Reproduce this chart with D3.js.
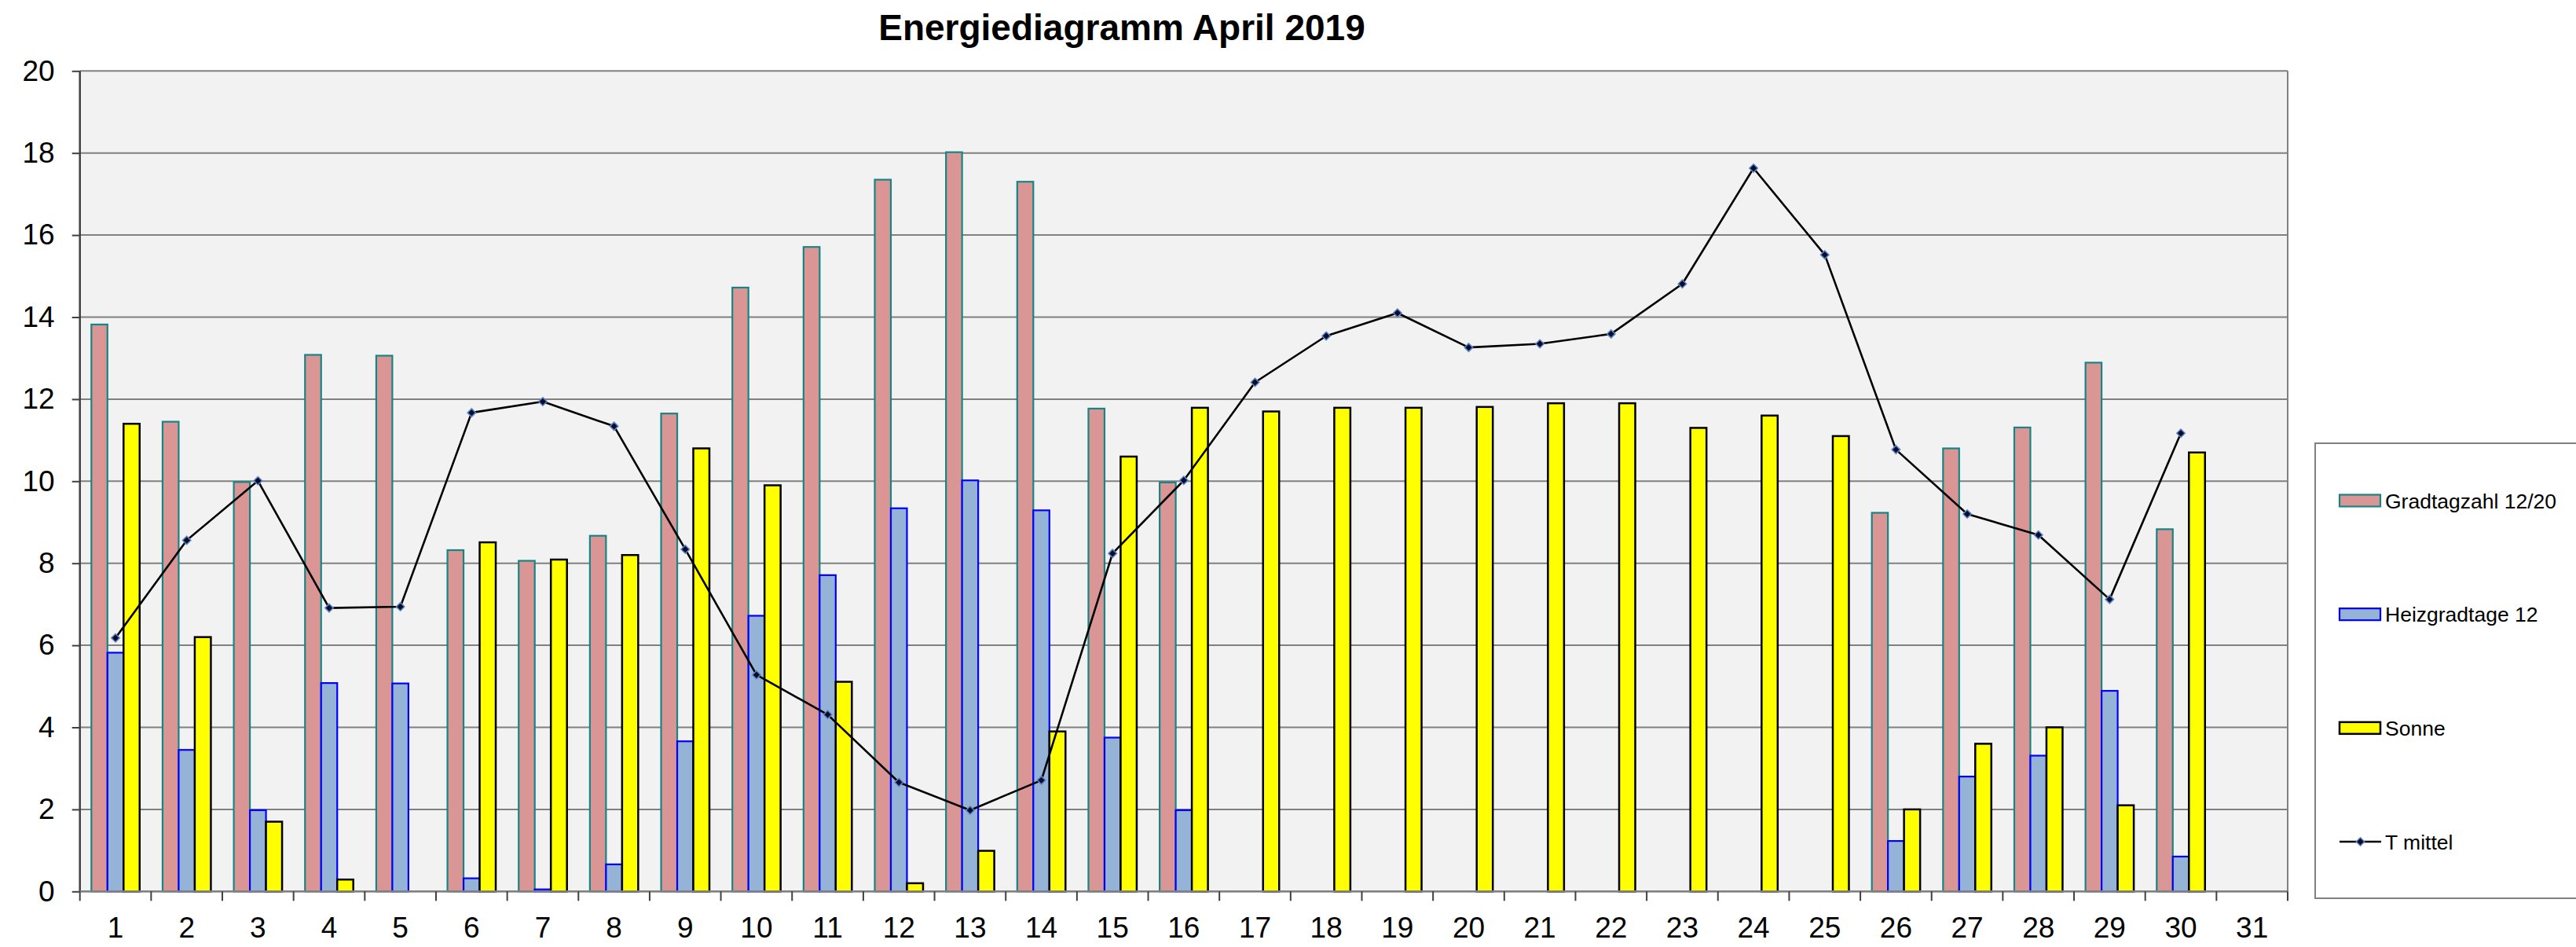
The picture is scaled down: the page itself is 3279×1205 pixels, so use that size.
<!DOCTYPE html>
<html>
<head>
<meta charset="utf-8">
<script src="https://cdn.jsdelivr.net/npm/d3@7"></script>
<style>
  html, body { margin: 0; padding: 0; background: #ffffff; }
  svg { display: block; }
  text { font-family: "Liberation Sans", Arial, Helvetica, sans-serif; }
</style>
</head>
<body>
<svg id="chart" width="3279" height="1205"></svg>
<script>
// ---------- data ----------
const days = ["1","2","3","4","5","6","7","8","9","10","11","12","13","14","15","16",
              "17","18","19","20","21","22","23","24","25","26","27","28","29","30","31"];

const gradtagzahl = [13.82, 11.45, 9.98, 13.08, 13.06, 8.32, 8.06, 8.67, 11.65, 14.72,
                     15.71, 17.35, 18.02, 17.30, 11.77, 9.97, 0, 0, 0, 0,
                     0, 0, 0, 0, 0, 9.23, 10.80, 11.31, 12.89, 8.83, null];

const heizgradtage = [5.82, 3.45, 1.98, 5.08, 5.07, 0.32, 0.05, 0.66, 3.66, 6.72,
                      7.71, 9.34, 10.02, 9.29, 3.75, 1.98, 0, 0, 0, 0,
                      0, 0, 0, 0, 0, 1.23, 2.80, 3.31, 4.89, 0.85, null];

const sonne = [11.40, 6.20, 1.70, 0.29, 0, 8.51, 8.09, 8.20, 10.80, 9.90,
               5.11, 0.20, 0.99, 3.90, 10.60, 11.79, 11.70, 11.79, 11.79, 11.81,
               11.90, 11.90, 11.30, 11.60, 11.10, 2.00, 3.60, 4.00, 2.10, 10.70, null];

const tMittel = [6.18, 8.56, 10.01, 6.91, 6.94, 11.67, 11.94, 11.34, 8.34, 5.28,
                 4.31, 2.66, 1.98, 2.71, 8.24, 10.02, 12.41, 13.54, 14.10, 13.26,
                 13.35, 13.59, 14.81, 17.63, 15.52, 10.77, 9.20, 8.69, 7.12, 11.17, null];

const yTicks = [0, 2, 4, 6, 8, 10, 12, 14, 16, 18, 20];

const seriesNames = ["Gradtagzahl 12/20", "Heizgradtage 12", "Sonne", "T mittel"];

// ---------- layout ----------
const W = 3279, H = 1205;
const plot = { left: 101.7, right: 2912, top: 90.3, bottom: 1134.3 };

const svg = d3.select("#chart");
svg.append("rect").attr("width", W).attr("height", H).attr("fill", "#ffffff");

const x = d3.scaleBand().domain(days).range([plot.left, plot.right]).paddingInner(0).paddingOuter(0);
const bw = x.bandwidth();
const groupW = bw * 0.678;
const barSeries = ["grad", "heiz", "sonne"];
const xInner = d3.scaleBand().domain(barSeries)
  .range([(bw - groupW) / 2, (bw + groupW) / 2]).padding(0);

const y = d3.scaleLinear().domain([0, 20]).range([plot.bottom, plot.top]);

// plot background
svg.append("rect")
  .attr("x", plot.left).attr("y", plot.top)
  .attr("width", plot.right - plot.left).attr("height", plot.bottom - plot.top)
  .attr("fill", "#f2f2f2");

// gridlines
svg.append("g").selectAll("line").data(yTicks).join("line")
  .attr("x1", plot.left).attr("x2", plot.right)
  .attr("y1", d => y(d)).attr("y2", d => y(d))
  .attr("stroke", "#808080").attr("stroke-width", 2);

// right border of plot area
svg.append("line")
  .attr("x1", plot.right).attr("x2", plot.right)
  .attr("y1", plot.top).attr("y2", plot.bottom)
  .attr("stroke", "#808080").attr("stroke-width", 2);

// ---------- bars ----------
const styles = {
  grad:  { fill: "#d99694", stroke: "#178585" },
  heiz:  { fill: "#95b3d7", stroke: "#0000ff" },
  sonne: { fill: "#ffff00", stroke: "#000000" }
};
const valuesBy = { grad: gradtagzahl, heiz: heizgradtage, sonne: sonne };

barSeries.forEach(key => {
  const data = days.map((d, i) => ({ day: d, v: valuesBy[key][i] }))
    .filter(d => d.v !== null && d.v > 0);
  svg.append("g").selectAll("rect").data(data).join("rect")
    .attr("x", d => x(d.day) + xInner(key))
    .attr("y", d => y(d.v))
    .attr("width", xInner.bandwidth())
    .attr("height", d => y(0) - y(d.v))
    .attr("fill", styles[key].fill)
    .attr("stroke", styles[key].stroke)
    .attr("stroke-width", key === "sonne" ? 2.5 : 2.2);
});

// ---------- axes ----------
const yAxis = d3.axisLeft(y).tickValues(yTicks).tickSize(10).tickPadding(22).tickFormat(d3.format("d"));
const gy = svg.append("g").attr("transform", `translate(${plot.left},0)`).call(yAxis);
gy.select(".domain").remove();
gy.selectAll(".tick line").attr("stroke", "#404040").attr("stroke-width", 2);
gy.selectAll(".tick text")
  .attr("font-size", 37).attr("fill", "#000")
  .style("font-family", '"Liberation Sans", Arial, sans-serif');

// left axis line
svg.append("line")
  .attr("x1", plot.left).attr("x2", plot.left)
  .attr("y1", plot.top).attr("y2", plot.bottom)
  .attr("stroke", "#404040").attr("stroke-width", 2.5);

// bottom axis line
svg.append("line")
  .attr("x1", plot.left).attr("x2", plot.right)
  .attr("y1", plot.bottom).attr("y2", plot.bottom)
  .attr("stroke", "#808080").attr("stroke-width", 2.5);

// x labels
const xAxis = d3.axisBottom(x).tickSize(0).tickPadding(0);
const gx = svg.append("g").attr("transform", `translate(0,${plot.bottom})`).call(xAxis);
gx.select(".domain").remove();
gx.selectAll(".tick text")
  .attr("font-size", 37).attr("fill", "#000")
  .attr("y", 59).attr("dy", 0)
  .style("font-family", '"Liberation Sans", Arial, sans-serif');

// x tick marks between categories
const boundaries = days.map(d => x(d)).concat([x(days[days.length - 1]) + bw]);
svg.append("g").selectAll("line").data(boundaries).join("line")
  .attr("x1", d => d).attr("x2", d => d)
  .attr("y1", plot.bottom).attr("y2", plot.bottom + 12)
  .attr("stroke", "#404040").attr("stroke-width", 2);

// ---------- line ----------
const lineData = days.map((d, i) => ({ day: d, v: tMittel[i] })).filter(d => d.v !== null);
const line = d3.line().x(d => x(d.day) + bw / 2).y(d => y(d.v));
svg.append("path").datum(lineData)
  .attr("d", line).attr("fill", "none")
  .attr("stroke", "#000000").attr("stroke-width", 2.6).attr("stroke-linejoin", "round");

const diamond = d3.symbol().type(d3.symbolDiamond2).size(70);
svg.append("g").selectAll("path").data(lineData).join("path")
  .attr("d", diamond)
  .attr("transform", d => `translate(${x(d.day) + bw / 2},${y(d.v)})`)
  .attr("fill", "#0b0b30").attr("stroke", "#5b87c5").attr("stroke-width", 1.5);

// ---------- title ----------
svg.append("text")
  .attr("x", 1428).attr("y", 51)
  .attr("text-anchor", "middle")
  .attr("font-size", 46).attr("font-weight", "bold").attr("fill", "#000")
  .text("Energiediagramm April 2019");

// ---------- legend ----------
const legend = svg.append("g");
legend.append("rect")
  .attr("x", 2947).attr("y", 564).attr("width", 400).attr("height", 579)
  .attr("fill", "#ffffff").attr("stroke", "#808080").attr("stroke-width", 2);

const legendY = d3.scalePoint().domain(seriesNames).range([637, 1071]);
const legendKeys = ["grad", "heiz", "sonne"];

seriesNames.forEach((name, i) => {
  const cy = legendY(name);
  if (i < 3) {
    const k = legendKeys[i];
    legend.append("rect")
      .attr("x", 2978).attr("y", cy - 7.5).attr("width", 52).attr("height", 15)
      .attr("fill", styles[k].fill).attr("stroke", styles[k].stroke)
      .attr("stroke-width", k === "sonne" ? 2.5 : 2.2);
  } else {
    legend.append("line")
      .attr("x1", 2978).attr("x2", 3031).attr("y1", cy).attr("y2", cy)
      .attr("stroke", "#000").attr("stroke-width", 2.6);
    legend.append("path").attr("d", diamond)
      .attr("transform", `translate(3004.5,${cy})`)
      .attr("fill", "#0b0b30").attr("stroke", "#5b87c5").attr("stroke-width", 1.5);
  }
  legend.append("text")
    .attr("x", 3036).attr("y", cy).attr("dy", "0.36em")
    .attr("font-size", 26.5).attr("fill", "#000")
    .text(name);
});
</script>
</body>
</html>
